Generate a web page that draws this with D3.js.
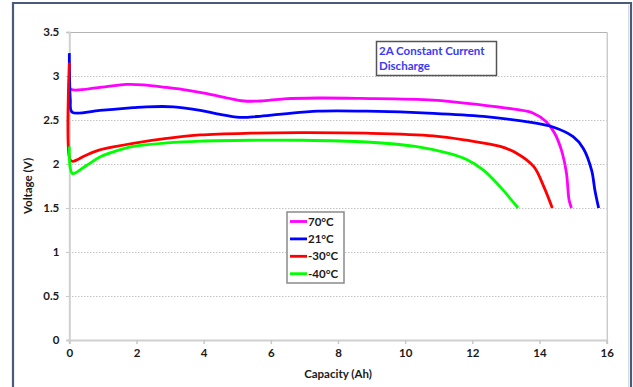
<!DOCTYPE html>
<html>
<head>
<meta charset="utf-8">
<script src="https://cdn.jsdelivr.net/npm/d3@7"></script>
<style>
  body { margin: 0; background: #fff; }
  svg { display: block; font-family: Lato, "Liberation Sans", sans-serif; }
</style>
</head>
<body>
<div id="chart"></div>
<script>
// Data
const seriesNames = ["70°C", "21°C", "-30°C", "-40°C"];
const seriesColors = ["#ff00ff", "#0000ff", "#ff0000", "#00ff00"];

const cap70 = [0, 0.04, 0.91, 1.7, 2.2, 2.9, 3.5, 4.1, 4.7, 5.2, 5.7, 6.4, 7.4, 8.65, 10.83, 12.3, 13.3, 13.8, 14.2, 14.45, 14.65, 14.8, 14.88, 14.95];
const volt70 = [2.92, 2.85, 2.87, 2.905, 2.9, 2.87, 2.84, 2.80, 2.75, 2.716, 2.716, 2.74, 2.75, 2.746, 2.727, 2.67, 2.62, 2.58, 2.48, 2.35, 2.16, 1.9, 1.59, 1.5];

const cap21 = [0, 0.03, 0.08, 0.91, 1.9, 2.3, 3.1, 3.9, 4.4, 5.08, 5.6, 6.4, 7.4, 8.85, 10.84, 12.33, 13.8, 14.4, 15.0, 15.3, 15.55, 15.65, 15.76];
const volt21 = [3.26, 2.73, 2.59, 2.61, 2.64, 2.65, 2.65, 2.61, 2.57, 2.53, 2.54, 2.57, 2.60, 2.60, 2.576, 2.54, 2.47, 2.42, 2.31, 2.18, 1.93, 1.70, 1.5];

const capM30 = [0, 0.02, 0.1, 0.5, 0.91, 1.4, 1.9, 2.9, 3.9, 5.38, 6.87, 8.85, 10.84, 11.83, 12.83, 13.33, 13.83, 14.13, 14.38];
const voltM30 = [3.15, 2.05, 2.03, 2.1, 2.16, 2.2, 2.235, 2.29, 2.33, 2.35, 2.356, 2.35, 2.32, 2.27, 2.2, 2.12, 1.97, 1.74, 1.5];

const capM40 = [0, 0.03, 0.1, 0.5, 0.91, 1.4, 1.9, 2.9, 3.9, 5.38, 6.87, 8.85, 10.3, 11.3, 11.83, 12.33, 12.83, 13.36];
const voltM40 = [2.2, 1.95, 1.89, 1.98, 2.08, 2.15, 2.2, 2.24, 2.26, 2.27, 2.27, 2.25, 2.2, 2.12, 2.05, 1.93, 1.74, 1.5];

const xTicks = [0, 2, 4, 6, 8, 10, 12, 14, 16];
const yTicks = [0, 0.5, 1, 1.5, 2, 2.5, 3, 3.5];

const titleLines = ["2A Constant Current", "Discharge"];

////////////////////////////////////////////////////////////////////////
// Setup

const width = 633, height = 387;
const plot = { left: 69.3, right: 606.7, top: 32, bottom: 340 };
const labelFont = "Lato, 'Liberation Sans', sans-serif";

let xScale = d3.scaleLinear().domain([0, 16]).range([plot.left, plot.right]);
let yScale = d3.scaleLinear().domain([0, 3.5]).range([plot.bottom, plot.top]);

let svg = d3.select("#chart").append("svg")
  .attr("width", width)
  .attr("height", height);

// outer frame
svg.append("path")
  .attr("d", "M13," + (height + 2) + "L13,3L631,3L631," + (height + 2))
  .attr("fill", "none")
  .attr("stroke", "#4a5a78")
  .attr("stroke-width", 2.2);
svg.append("line")
  .attr("x1", 628.5).attr("x2", 628.5).attr("y1", 5).attr("y2", height)
  .attr("stroke", "#d8dbe2").attr("stroke-width", 1);

// gridlines (dotted)
svg.append("g")
  .selectAll("line")
  .data(yTicks.filter(t => t > 0 && t < 3.5))
  .enter()
  .append("line")
  .attr("x1", xScale(0) - 3)
  .attr("x2", plot.right)
  .attr("y1", d => Math.round(yScale(d)) + 0.5)
  .attr("y2", d => Math.round(yScale(d)) + 0.5)
  .attr("stroke", "#a8a8a8")
  .attr("stroke-dasharray", "1,2");

// plot border top / right
svg.append("path")
  .attr("d", "M" + (plot.left - 3) + "," + (plot.top + 0.5) + "L" + (plot.right + 0.5) + "," + (plot.top + 0.5) + "L" + (plot.right + 0.5) + "," + plot.bottom)
  .attr("fill", "none")
  .attr("stroke", "#b4b4b4")
  .attr("stroke-width", 1);

// x axis
let xAxis = d3.axisBottom(xScale).tickValues(xTicks).tickSize(4).tickPadding(5).tickFormat(d3.format("d"));
let gx = svg.append("g")
  .attr("transform", "translate(0," + plot.bottom + ")")
  .call(xAxis);
gx.select(".domain").attr("stroke", "#d0d0d0").attr("stroke-width", 2);
gx.selectAll(".tick line").attr("stroke", "#c8c8c8").attr("stroke-width", 1.5);
gx.selectAll("text")
  .attr("font-size", 11.5).attr("font-weight", "bold").attr("fill", "#1a1a1a")
  .attr("font-family", labelFont);

// y axis
let yAxis = d3.axisLeft(yScale).tickValues(yTicks).tickSize(3).tickPadding(7).tickFormat(d => d);
let gy = svg.append("g")
  .attr("transform", "translate(" + plot.left + ",0)")
  .call(yAxis);
gy.select(".domain").attr("stroke", "#d0d0d0").attr("stroke-width", 2);
gy.selectAll(".tick line").attr("stroke", "#c8c8c8").attr("stroke-width", 1);
gy.selectAll("text")
  .attr("font-size", 11.5).attr("font-weight", "bold").attr("fill", "#1a1a1a")
  .attr("font-family", labelFont);

// axis titles
svg.append("text")
  .attr("x", (plot.left + plot.right) / 2)
  .attr("y", 378)
  .attr("text-anchor", "middle")
  .attr("font-size", 11.5).attr("font-weight", "bold").attr("fill", "#1a1a1a")
  .text("Capacity (Ah)");

svg.append("text")
  .attr("transform", "translate(32," + ((plot.top + plot.bottom) / 2) + ") rotate(-90)")
  .attr("text-anchor", "middle")
  .attr("font-size", 11.5).attr("font-weight", "bold").attr("fill", "#1a1a1a")
  .text("Voltage (V)");

////////////////////////////////////////////////////////////////////////
// Curves

const seriesData = [
  d3.zip(cap70, volt70),
  d3.zip(cap21, volt21),
  d3.zip(capM30, voltM30),
  d3.zip(capM40, voltM40)
];

let line = d3.line()
  .x(d => xScale(d[0]))
  .y(d => yScale(d[1]))
  .curve(d3.curveCatmullRom.alpha(0.5));

svg.append("g")
  .selectAll("path")
  .data(seriesData)
  .enter()
  .append("path")
  .attr("d", line)
  .attr("fill", "none")
  .attr("stroke", (d, i) => seriesColors[i])
  .attr("stroke-width", 2.8)
  .attr("stroke-linejoin", "round");

////////////////////////////////////////////////////////////////////////
// Title box

svg.append("rect")
  .attr("x", 376.5).attr("y", 41.5)
  .attr("width", 120).attr("height", 34)
  .attr("fill", "#fff")
  .attr("stroke", "#555")
  .attr("stroke-width", 1.5);

svg.append("g")
  .selectAll("text")
  .data(titleLines)
  .enter()
  .append("text")
  .attr("x", 379)
  .attr("y", (d, i) => 55 + i * 15)
  .attr("font-size", 11.5).attr("font-weight", "bold").attr("fill", "#3a3af5")
  .text(d => d);

////////////////////////////////////////////////////////////////////////
// Legend

let legend = svg.append("g").attr("transform", "translate(287,212)");
legend.append("rect")
  .attr("width", 57).attr("height", 71)
  .attr("fill", "#fff")
  .attr("stroke", "#8a8a8a")
  .attr("stroke-width", 1.5);

let items = legend.selectAll(".item")
  .data(seriesNames)
  .enter()
  .append("g")
  .attr("transform", (d, i) => "translate(0," + (9.5 + i * 17.4) + ")");

items.append("line")
  .attr("x1", 3).attr("x2", 20)
  .attr("stroke", (d, i) => seriesColors[i])
  .attr("stroke-width", 2.8);

items.append("text")
  .attr("x", 21)
  .attr("y", 4)
  .attr("font-size", 11.5).attr("font-weight", "bold").attr("fill", "#1a1a1a")
  .text(d => d);
</script>
</body>
</html>
